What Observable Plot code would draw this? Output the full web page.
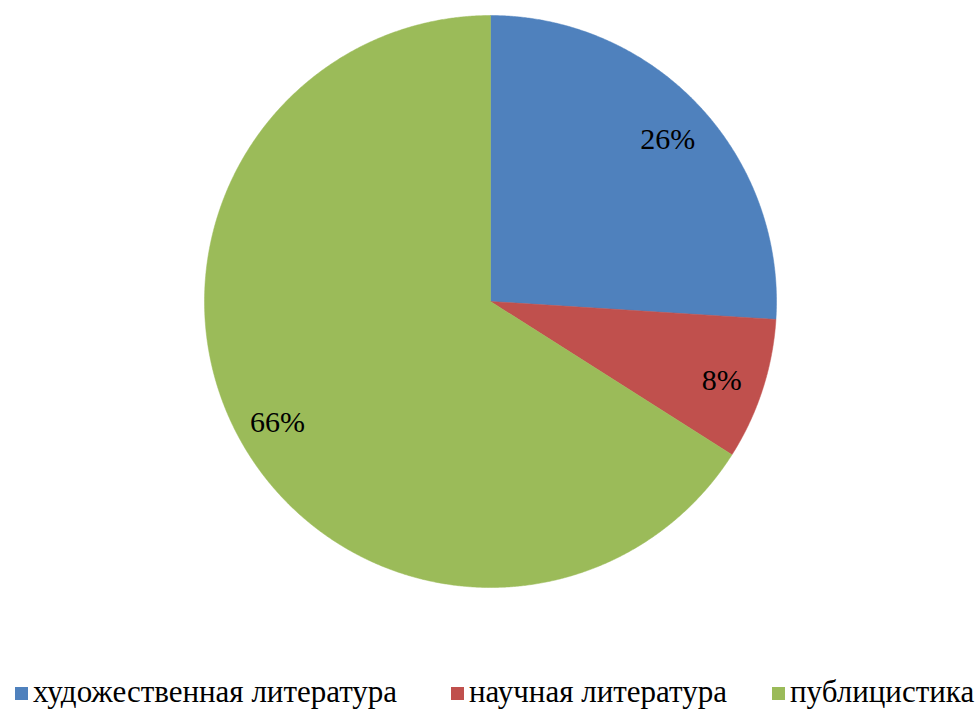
<!DOCTYPE html>
<html>
<head>
<meta charset="utf-8">
<script src="https://cdn.jsdelivr.net/npm/d3@7"></script>
<script src="https://cdn.jsdelivr.net/npm/@observablehq/plot@0.6"></script>
<style>
  html, body { margin: 0; padding: 0; background: #fff; }
  #wrap { position: relative; width: 975px; height: 709px; overflow: hidden; }
  #legend { position: absolute; left: 0; top: 676px; width: 975px; height: 33px;
    font-family: "Times New Roman", Times, "Liberation Serif", "Noto Serif", "DejaVu Serif", serif; font-size: 31px; line-height: 31px; color: #000; }
  .item { position: absolute; top: 0; white-space: nowrap; }
  .sw { display: inline-block; width: 13px; height: 13px; margin-right: 5px; vertical-align: 2px; }
</style>
</head>
<body>
<div id="wrap"><div id="chart"></div><div id="legend"></div></div>
<script>
const categories = ["художественная литература", "научная литература", "публицистика"];
const shares = [26, 8, 66];
const labels = ["26%", "8%", "66%"];
const colors = ["#4F81BD", "#C0504D", "#9BBB59"];

const pie = d3.pie().sort(null).value(d => d.value)(categories.map((c, i) => ({name: c, value: shares[i], label: labels[i]})));

// polygon outline for each slice (unit radius, clockwise from 12 o'clock)
const pts = [];
pie.forEach(s => {
  const name = s.data.name;
  pts.push({name, x: 0, y: 0});
  const n = Math.max(4, Math.ceil((s.endAngle - s.startAngle) / 0.005));
  for (let k = 0; k <= n; k++) {
    const a = s.startAngle + (s.endAngle - s.startAngle) * k / n;
    pts.push({name, x: Math.sin(a), y: Math.cos(a)});
  }
  pts.push({name, x: 0, y: 0});
});

const labelPos = pie.map(s => {
  const a = (s.startAngle + s.endAngle) / 2;
  const f = 0.85;
  return {label: s.data.label, x: f * Math.sin(a), y: f * Math.cos(a)};
});

const serif = "'Times New Roman', Times, 'Liberation Serif', 'Noto Serif', 'DejaVu Serif', serif";

const chart = Plot.plot({
  width: 975,
  height: 670,
  marginLeft: 204,
  marginRight: 199,
  marginTop: 15,
  marginBottom: 83,
  x: {domain: [-1, 1], axis: null},
  y: {domain: [-1, 1], axis: null},
  color: {domain: categories, range: colors},
  style: {background: "white", fontFamily: serif},
  marks: [
    Plot.line(pts, {x: "x", y: "y", z: "name", fill: "name", stroke: "name", strokeWidth: 0.5, curve: "linear"}),
    Plot.text(labelPos, {x: "x", y: "y", text: "label", fontSize: 30,
      fontFamily: serif, fill: "#000", dy: 4})
  ]
});
document.getElementById("chart").appendChild(chart);

const lefts = [15, 451, 772];
const legend = document.getElementById("legend");
categories.forEach((c, i) => {
  const it = document.createElement("div");
  it.className = "item";
  it.style.left = lefts[i] + "px";
  it.innerHTML = `<span class="sw" style="background:${colors[i]}"></span>${c}`;
  legend.appendChild(it);
});
</script>
</body>
</html>
